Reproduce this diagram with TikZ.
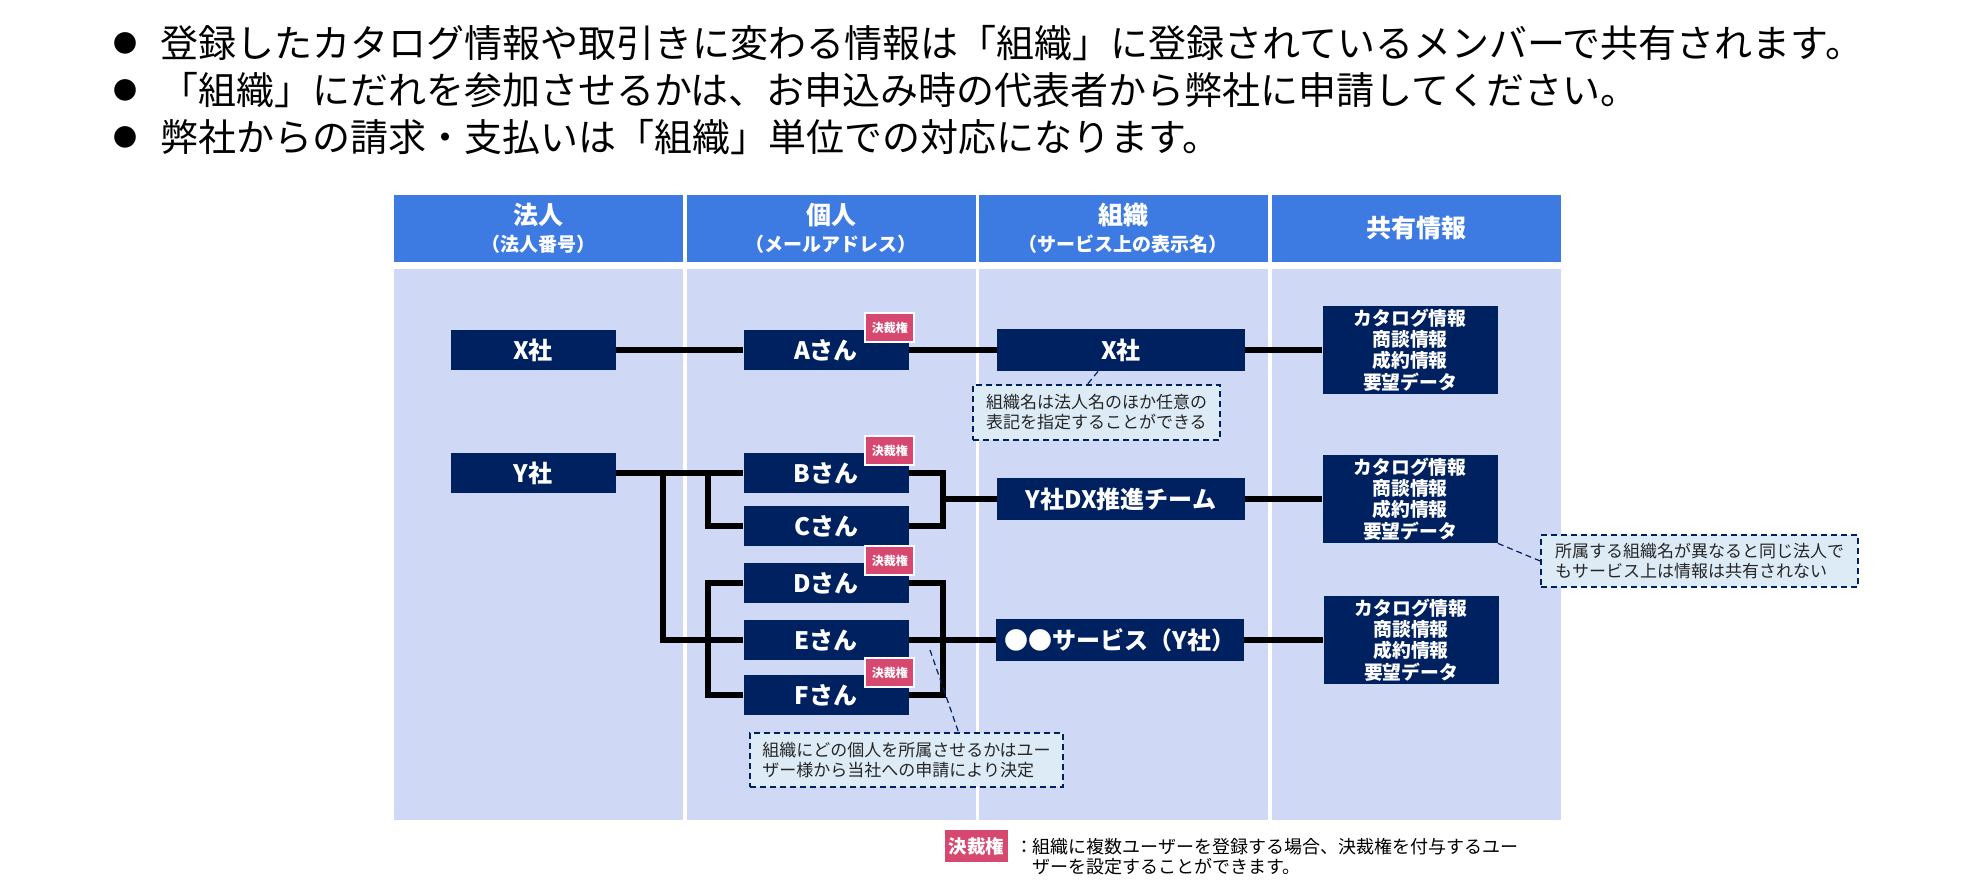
\documentclass[tikz,border=0pt]{standalone}
\usepackage{fontspec}
\setmainfont{Noto Sans CJK JP}

\definecolor{hdblue}{RGB}{61,123,226}
\definecolor{colbg}{RGB}{207,216,245}
\definecolor{navy}{RGB}{0,33,96}
\definecolor{badgered}{RGB}{214,72,112}
\definecolor{notefill}{RGB}{221,235,247}
\definecolor{notetext}{RGB}{38,38,38}

\tikzset{
    hdcell/.style={fill=hdblue, text=white, inner sep=0pt, minimum width=144.5pt,
        minimum height=33.5pt, align=center, font=\bfseries\fontsize{12.5}{13.5}\selectfont},
    unit/.style={fill=navy, text=white, inner sep=0pt, minimum width=82.5pt,
        minimum height=20pt, font=\bfseries\fontsize{12}{14}\selectfont},
    orgbox/.style={unit, minimum width=124pt, minimum height=21pt},
    infobox/.style={fill=navy, text=white, inner sep=0pt, minimum width=87.5pt,
        minimum height=44pt, align=center, font=\bfseries\fontsize{9.4}{10.6}\selectfont},
    badge/.style={fill=badgered, draw=white, line width=1pt, text=white, inner sep=0pt,
        minimum width=24.5pt, minimum height=14.5pt, font=\bfseries\fontsize{6}{7}\selectfont},
    note/.style={fill=notefill, draw=navy, line width=0.8pt, dash pattern=on 3pt off 2pt,
        text=notetext, align=left, inner sep=0pt, font=\fontsize{8.5}{10}\selectfont},
    link/.style={line width=2.6pt, black},
    leader/.style={navy, line width=0.6pt, dash pattern=on 3pt off 2pt},
    lead/.style={anchor=west, inner sep=0pt, font=\fontsize{19}{20}\selectfont},
    bul/.style={inner sep=0pt, font=\fontsize{12}{14}\selectfont}
}

\begin{document}
\begin{tikzpicture}[x=0.5pt,y=-0.5pt]
        \useasboundingbox[fill=white] (0,0) rectangle (1986,892);

        % bullet lines
        \node[bul] (d1) at (125,43) {●};
        \node[bul] (d2) at (125,90) {●};
        \node[bul] (d3) at (125,137) {●};
        \node[lead] (t1) at (160,43) {登録したカタログ情報や取引きに変わる情報は「組織」に登録されているメンバーで共有されます。};
        \node[lead] (t2) at (160,90) {「組織」にだれを参加させるかは、お申込み時の代表者から弊社に申請してください。};
        \node[lead] (t3) at (160,137) {弊社からの請求・支払いは「組織」単位での対応になります。};

        % table
        \fill[colbg] (393.5,269) rectangle (682.5,820);
        \fill[colbg] (686.5,269) rectangle (975.5,820);
        \fill[colbg] (978.5,269) rectangle (1267.5,820);
        \fill[colbg] (1271.5,269) rectangle (1560.5,820);

        \node[hdcell] (h1) at (538,228.5) {法人\\{\fontsize{9.5}{13.5}\selectfont （法人番号）}};
        \node[hdcell] (h2) at (831,228.5) {個人\\{\fontsize{9.5}{13.5}\selectfont （メールアドレス）}};
        \node[hdcell] (h3) at (1123,228.5) {組織\\{\fontsize{9.5}{13.5}\selectfont （サービス上の表示名）}};
        \node[hdcell] (h4) at (1416,228.5) {共有情報};

        \node[unit] (cX) at (533,350) {X社};
        \node[unit] (cY) at (533,473) {Y社};

        \node[unit] (pA) at (826,350) {Aさん};
        \node[unit] (pB) at (826,473) {Bさん};
        \node[unit] (pC) at (826,526) {Cさん};
        \node[unit] (pD) at (826,583) {Dさん};
        \node[unit] (pE) at (826,640) {Eさん};
        \node[unit] (pF) at (826,695) {Fさん};

        \node[orgbox] (oX) at (1121,350) {X社};
        \node[orgbox] (oY) at (1121,499) {Y社DX推進チーム};
        \node[orgbox] (oS) at (1120,640) {●●サービス（Y社）};

        \node[infobox] (iX) at (1410,350) {カタログ情報\\商談情報\\成約情報\\要望データ};
        \node[infobox] (iY) at (1410,499) {カタログ情報\\商談情報\\成約情報\\要望データ};
        \node[infobox] (iS) at (1411,640) {カタログ情報\\商談情報\\成約情報\\要望データ};

        \node[badge] (bA) at ([shift={(-19,-2)}]pA.north east) {決裁権};
        \node[badge] (bB) at ([shift={(-19,-2)}]pB.north east) {決裁権};
        \node[badge] (bD) at ([shift={(-19,-2)}]pD.north east) {決裁権};
        \node[badge] (bF) at ([shift={(-19,-2)}]pF.north east) {決裁権};

        % connectors
        \coordinate (jY1) at (663,473);
        \coordinate (jY2) at (708,473);
        \coordinate (kL) at (708,640);
        \coordinate (kBC) at (943,499);
        \coordinate (kDF) at (943,640);

        \draw[link] (cX) -- (pA);
        \draw[link] (pA) -- (oX);
        \draw[link] (oX) -- (iX);
        \draw[link] (cY) -- (pB);
        \draw[link] (jY1) |- (pE.west);
        \draw[link] (jY2) |- (pC.west);
        \draw[link] (pD.west) -| (kL) |- (pF.west);
        \draw[link] (pB.east) -| (kBC) |- (pC.east);
        \draw[link] (kBC) -- (oY.west);
        \draw[link] (pD.east) -| (kDF) |- (pF.east);
        \draw[link] (pE.east) -- (oS.west);
        \draw[link] (oY) -- (iY);
        \draw[link] (oS) -- (iS);

        % notes
        \node[note, minimum width=123.5pt, minimum height=27.5pt] (nX) at (1096.5,412.5)
            {組織名は法人名のほか任意の\\表記を指定することができる};
        \node[note, minimum width=158.5pt, minimum height=26pt] (nShare) at (1699.5,561)
            {所属する組織名が異なると同じ法人で\\もサービス上は情報は共有されない};
        \node[note, minimum width=156.5pt, minimum height=27pt] (nApply) at (906.5,760)
            {組織にどの個人を所属させるかはユー\\ザー様から当社への申請により決定};

        \coordinate (tE) at (930,650);
        \draw[leader] ([xshift=-11.5pt]oX.south) -- ([xshift=-4.5pt]nX.north);
        \draw[leader] (iY.south east) -- (nShare.west);
        \draw[leader] (tE) -- ([xshift=26pt]nApply.north);

        % legend
        \node[badge, draw=none, minimum width=31.5pt, minimum height=16pt,
            font=\bfseries\fontsize{9.25}{10}\selectfont] (lgB) at (976.5,846) {決裁権};
        \node[inner sep=0pt, font=\fontsize{9}{10}\selectfont] (lgC) at (1024,847) {：};
        \node[anchor=west, inner sep=0pt, align=left, font=\fontsize{9}{10}\selectfont] (lgT) at (1032,857)
            {組織に複数ユーザーを登録する場合、決裁権を付与するユー\\ザーを設定することができます。};
\end{tikzpicture}
\end{document}
